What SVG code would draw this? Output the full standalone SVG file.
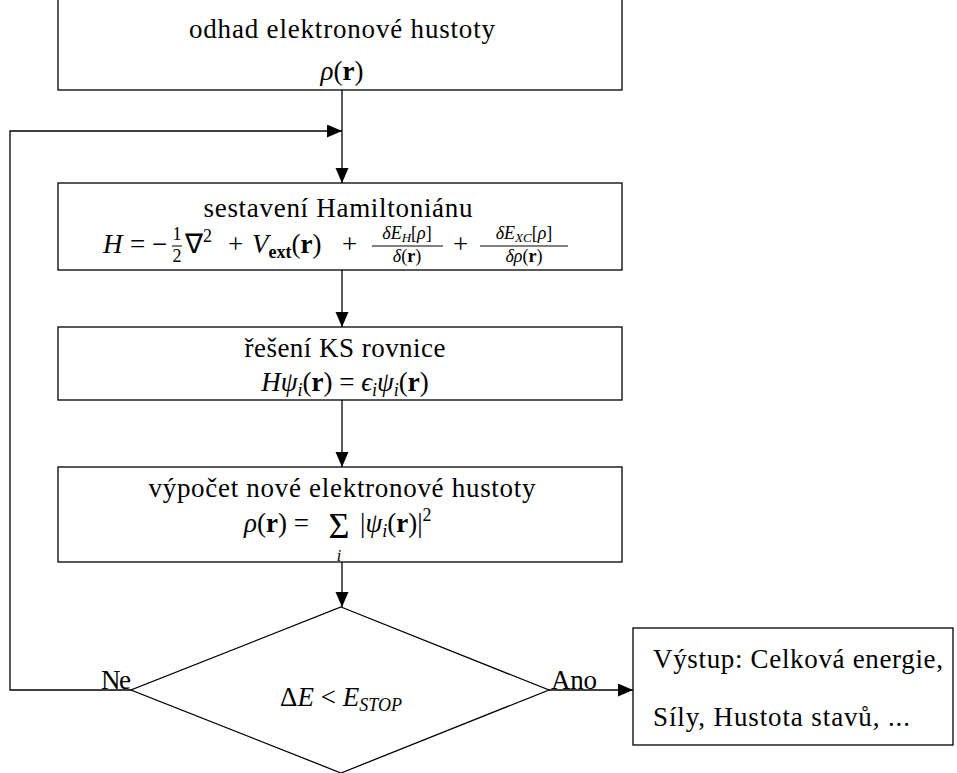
<svg xmlns="http://www.w3.org/2000/svg" width="957" height="773" viewBox="0 0 957 773">
<style>
.t{font-family:"Liberation Serif","Times New Roman",serif;font-size:27px;fill:#000}
.i{font-style:italic}
.b{font-weight:bold}
.s{font-size:18px}
.ss{font-size:13px}
.sub{font-size:16px}
.big{font-size:36px}
.box{fill:#fff;stroke:#000;stroke-width:1.3}
.ln{fill:none;stroke:#000;stroke-width:1.3}
.bar{stroke:#000;stroke-width:1}
</style>
<defs>
<marker id="ah" markerUnits="userSpaceOnUse" markerWidth="16" markerHeight="14" refX="15" refY="6.5" orient="auto">
<path d="M0,0 L15,6.5 L0,13 z" fill="#000"/>
</marker>
</defs>
<rect width="957" height="773" fill="#fff"/>
<g id="connectors">
<line class="ln" x1="342" y1="90" x2="342" y2="183" marker-end="url(#ah)"/>
<polyline class="ln" points="131,690 10,690 10,131 342,131" marker-end="url(#ah)"/>
<line class="ln" x1="342" y1="270" x2="342" y2="327" marker-end="url(#ah)"/>
<line class="ln" x1="342" y1="400" x2="342" y2="467" marker-end="url(#ah)"/>
<line class="ln" x1="342" y1="562" x2="342" y2="607" marker-end="url(#ah)"/>
<line class="ln" x1="549" y1="690" x2="633" y2="690" marker-end="url(#ah)"/>
<text class="t" x="131" y="689" text-anchor="end" textLength="30" lengthAdjust="spacing">Ne</text>
<text class="t" x="551" y="689" textLength="46" lengthAdjust="spacing">Ano</text>
</g>
<g id="n1">
<rect class="box" x="58" y="-1" width="564" height="91"/>
<text class="t" x="342" y="38" text-anchor="middle" textLength="306" lengthAdjust="spacing">odhad elektronové hustoty</text>
<text class="t" x="342" y="80" text-anchor="middle"><tspan class="i">ρ</tspan>(<tspan class="b">r</tspan>)</text>
</g>
<g id="n2">
<rect class="box" x="58" y="183" width="564" height="87"/>
<text class="t" x="338" y="217" text-anchor="middle" textLength="269" lengthAdjust="spacing">sestavení Hamiltoniánu</text>
<text class="t i" x="103" y="253">H</text>
<text class="t" x="130" y="253">=</text>
<text class="t" x="152" y="253">−</text>
<text class="t s" x="177" y="240" text-anchor="middle">1</text>
<line class="bar" x1="172" y1="246" x2="182" y2="246"/>
<text class="t s" x="177" y="262" text-anchor="middle">2</text>
<text class="t" x="185" y="253">∇<tspan class="s" dy="-11">2</tspan></text>
<text class="t" x="228" y="253">+</text>
<text class="t" x="252" y="253"><tspan class="i">V</tspan><tspan class="s b" dy="5">ext</tspan><tspan dy="-5">(</tspan><tspan class="b">r</tspan>)</text>
<text class="t" x="342" y="253">+</text>
<text class="t s" x="407" y="239" text-anchor="middle"><tspan class="i">δE</tspan><tspan class="i ss" dy="3">H</tspan><tspan dy="-3">[</tspan><tspan class="i">ρ</tspan>]</text>
<line class="bar" x1="372" y1="246" x2="443" y2="246"/>
<text class="t s" x="407" y="262" text-anchor="middle"><tspan class="i">δ</tspan>(<tspan class="b">r</tspan>)</text>
<text class="t" x="453" y="253">+</text>
<text class="t s" x="524" y="239" text-anchor="middle"><tspan class="i">δE</tspan><tspan class="i ss" dy="3">XC</tspan><tspan dy="-3">[</tspan><tspan class="i">ρ</tspan>]</text>
<line class="bar" x1="480" y1="246" x2="568" y2="246"/>
<text class="t s" x="524" y="262" text-anchor="middle"><tspan class="i">δρ</tspan>(<tspan class="b">r</tspan>)</text>
</g>
<g id="n3">
<rect class="box" x="58" y="327" width="564" height="73"/>
<text class="t" x="345" y="357" text-anchor="middle" textLength="201" lengthAdjust="spacing">řešení KS rovnice</text>
<text class="t" x="345" y="391" text-anchor="middle"><tspan class="i">Hψ</tspan><tspan class="i s" dy="5">i</tspan><tspan dy="-5">(</tspan><tspan class="b">r</tspan>) = <tspan class="i">ϵ</tspan><tspan class="i s" dy="5">i</tspan><tspan class="i" dy="-5">ψ</tspan><tspan class="i s" dy="5">i</tspan><tspan dy="-5">(</tspan><tspan class="b">r</tspan>)</text>
</g>
<g id="n4">
<rect class="box" x="58" y="467" width="564" height="95"/>
<text class="t" x="342" y="497" text-anchor="middle" textLength="387" lengthAdjust="spacing">výpočet nové elektronové hustoty</text>
<text class="t" x="244" y="532"><tspan class="i">ρ</tspan>(<tspan class="b">r</tspan>) =</text>
<text class="t big" x="339" y="538" text-anchor="middle">Σ</text>
<text class="t i sub" x="339" y="561" text-anchor="middle">i</text>
<text class="t" x="360" y="532">|<tspan class="i">ψ</tspan><tspan class="i s" dy="5">i</tspan><tspan dy="-5">(</tspan><tspan class="b">r</tspan>)|<tspan class="s" dy="-11">2</tspan></text>
</g>
<g id="n5">
<polygon class="box" points="341,607 549,690 341,773 131,690"/>
<text class="t" x="341" y="706" text-anchor="middle">Δ<tspan class="i">E</tspan> &lt; <tspan class="i">E</tspan><tspan class="i s" dy="5">STOP</tspan></text>
</g>
<g id="n6">
<rect class="box" x="633" y="628" width="320" height="117"/>
<text class="t" x="653" y="668" textLength="290" lengthAdjust="spacing">Výstup: Celková energie,</text>
<text class="t" x="653" y="726" textLength="257" lengthAdjust="spacing">Síly, Hustota stavů, ...</text>
</g>
</svg>
